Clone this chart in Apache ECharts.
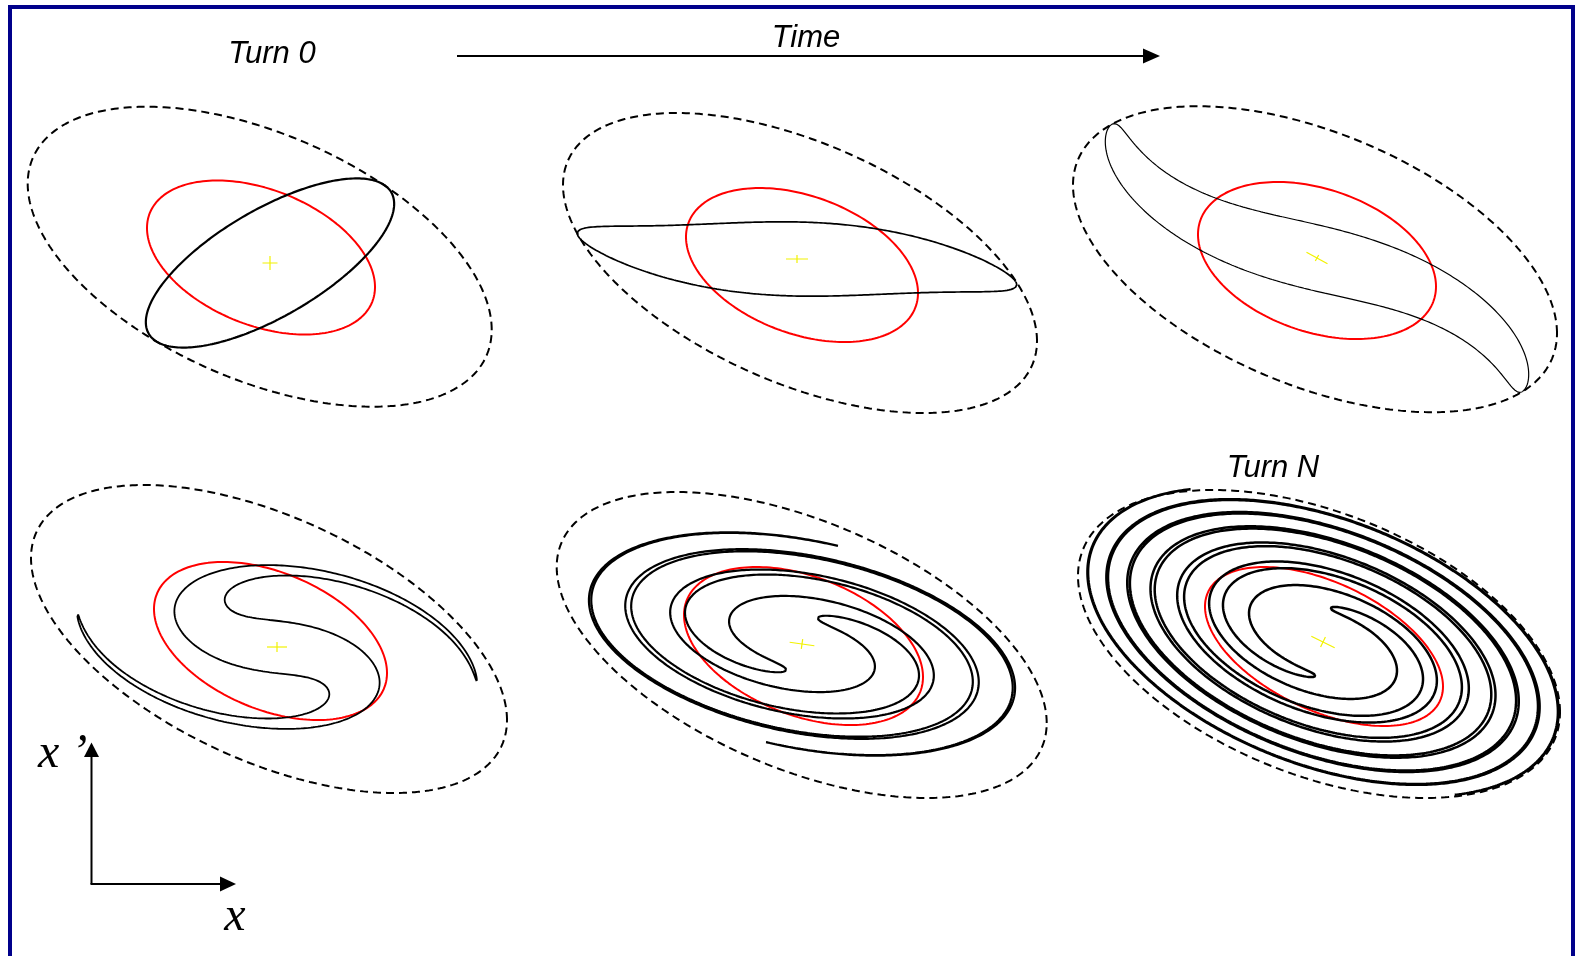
<!DOCTYPE html>
<html><head><meta charset="utf-8">
<script src="https://cdn.jsdelivr.net/npm/echarts@6/dist/echarts.min.js"></script>
<style>html,body{margin:0;padding:0;background:#fff}#c{width:1578px;height:964px}</style>
</head><body><div id="c"></div>
<script>
// ---------------- data ----------------
const titleTexts = ['Turn 0', 'Time', 'Turn N'];
const axisLabels = ['x ’', 'x'];
// initial (mismatched) beam ellipse, in the normalised frame of the envelope
const mismatchAxisRatio = 0.247;
const mismatchAngleDeg = 60.66;
// per-panel phase rotation of the outermost particles and amplitude-dependent spread
const outerRotationDeg = [0, 38, 92.6, 62.7, 159.6, 117.5];
const filamentShearDeg = [0, 10, 40, 186, 607, 1119];
const shearProfilePower = [1, 1, 1, 1, 1, 1];
// dashed envelope ellipse: half width, half height, x' at max x
const envHalfWidth = [232, 237, 242, 238, 245, 241];
const envHalfHeight = [150, 150, 153, 154, 153, 154];
const envYAtMaxX = [-73, -78, -74, -81, -78, -68];
// phase-space frame in which the beam filaments
const frameHalfWidth = [232, 237, 242, 200, 230, 241];
const frameHalfHeight = [150, 150, 153, 110, 114, 154];
const frameYAtMaxX = [-73, -78, -74, -30, -42, -68];
// red matched ellipse
const redHalfWidth = [114, 116, 119, 116.5, 119.5, 119];
const redHalfHeight = [77, 77, 78.5, 79, 79, 79.5];
const redYAtMaxX = [-29.5, -28, -26, -32, -31, -40];
const redCentre = [[1.3, -0.8], [2, -2], [2, -1.3], [1.5, -2], [1.8, -1], [5, -2.5]];
// beam centroid (yellow cross)
const beamCentre = [[10.3, -6.3], [-3, 4], [2, 1.2], [8, -8], [0.3, 1], [4, 2]];
const crossLongHalf = [7.5, 11, 12, 10, 12.5, 13];
const crossShortHalf = [7, 4, 3.5, 5, 5, 5.5];
const crossAngleDeg = [0, 0, -29, 0, -8, -26];

// ---------------- layout / style ----------------
const panelCentres = [[259.7,256.7],[800,263],[1315,259.2],[269,639],[801.7,645],[1319,644]];
const beamWidth = [2.2, 1.7, 1.2, 1.8, 2.2, 2.5];
const HW = 250, HH = 170;

function ellipse(W, H, yR, ox, oy, n) {
  const s = Math.sqrt(Math.max(H*H - yR*yR, 1));
  const pts = [];
  for (let i = 0; i <= n; i++) {
    const t = 2*Math.PI*i/n, u = Math.cos(t), v = Math.sin(t);
    pts.push([W*u + ox, yR*u + s*v + oy]);
  }
  return pts;
}
function beam(p, n) {
  const W = frameHalfWidth[p], H = frameHalfHeight[p], yR = frameYAtMaxX[p];
  const s = Math.sqrt(H*H - yR*yR);
  const b = mismatchAxisRatio, th = mismatchAngleDeg*Math.PI/180;
  const [ox, oy] = beamCentre[p];
  const pts = [];
  for (let i = 0; i <= n; i++) {
    const t = 2*Math.PI*i/n;
    const u0 = Math.cos(t)*Math.cos(th) - b*Math.sin(t)*Math.sin(th);
    const v0 = Math.cos(t)*Math.sin(th) + b*Math.sin(t)*Math.cos(th);
    const J = u0*u0 + v0*v0, r = Math.sqrt(J), ph = Math.atan2(v0, u0);
    const f = Math.pow(Math.max(0, (1 - J)/(1 - b*b)), shearProfilePower[p]);
    const rot = (outerRotationDeg[p] - filamentShearDeg[p]*f)*Math.PI/180;
    const u = r*Math.cos(ph - rot), v = r*Math.sin(ph - rot);
    pts.push([W*u + ox, yR*u + s*v + oy]);
  }
  return pts;
}
function crossArm(p, which) {
  const a = (crossAngleDeg[p] + (which ? 90 : 0))*Math.PI/180;
  const L = which ? crossShortHalf[p] : crossLongHalf[p];
  const [ox, oy] = beamCentre[p];
  return [[ox - L*Math.cos(a), oy - L*Math.sin(a)], [ox + L*Math.cos(a), oy + L*Math.sin(a)]];
}

const grids = [], xAxes = [], yAxes = [], series = [];
panelCentres.forEach((c, p) => {
  grids.push({left: c[0]-HW, top: c[1]-HH, width: 2*HW, height: 2*HH, containLabel: false});
  xAxes.push({gridIndex: p, type: 'value', min: -HW, max: HW, show: false});
  yAxes.push({gridIndex: p, type: 'value', min: -HH, max: HH, show: false});
  const base = {type: 'line', xAxisIndex: p, yAxisIndex: p, showSymbol: false, symbol: 'none',
    clip: false, silent: true, animation: false, smooth: false};
  series.push(Object.assign({}, base, {data: ellipse(envHalfWidth[p], envHalfHeight[p], envYAtMaxX[p], 0, 0, 400),
    lineStyle: {color: '#000', width: 2, type: [8, 5]}}));
  series.push(Object.assign({}, base, {data: ellipse(redHalfWidth[p], redHalfHeight[p], redYAtMaxX[p], redCentre[p][0], redCentre[p][1], 400),
    lineStyle: {color: '#ff0000', width: 2}}));
  series.push(Object.assign({}, base, {data: beam(p, 16000),
    lineStyle: {color: '#000', width: beamWidth[p]}}));
  series.push(Object.assign({}, base, {data: crossArm(p, 0), lineStyle: {color: '#f2f200', width: 1.2}}));
  series.push(Object.assign({}, base, {data: crossArm(p, 1), lineStyle: {color: '#f2f200', width: 1.2}}));
});

const sans = 'italic 31px "Liberation Sans", Arial, sans-serif';
const serif = 'italic 48px "Liberation Serif", "Times New Roman", serif';
const graphic = [
  {type: 'polyline', shape: {points: [[10, 956], [10, 7], [1573, 7], [1573, 956]]},
    style: {stroke: '#00008b', lineWidth: 4, fill: null}},
  {type: 'text', style: {text: titleTexts[0], x: 272, y: 54, font: sans, fill: '#000', textAlign: 'center', textVerticalAlign: 'middle'}},
  {type: 'text', style: {text: titleTexts[1], x: 806, y: 38, font: sans, fill: '#000', textAlign: 'center', textVerticalAlign: 'middle'}},
  {type: 'text', style: {text: titleTexts[2], x: 1273, y: 468, font: sans, fill: '#000', textAlign: 'center', textVerticalAlign: 'middle'}},
  {type: 'line', shape: {x1: 457, y1: 56, x2: 1144, y2: 56}, style: {stroke: '#000', lineWidth: 2}},
  {type: 'polygon', shape: {points: [[1143, 48.5], [1160, 56], [1143, 63.5]]}, style: {fill: '#000'}},
  {type: 'line', shape: {x1: 91.5, y1: 884, x2: 91.5, y2: 756}, style: {stroke: '#000', lineWidth: 2}},
  {type: 'polygon', shape: {points: [[84, 757], [91.5, 742.5], [99, 757]]}, style: {fill: '#000'}},
  {type: 'line', shape: {x1: 90.5, y1: 884, x2: 221, y2: 884}, style: {stroke: '#000', lineWidth: 2}},
  {type: 'polygon', shape: {points: [[220, 876.5], [236, 884], [220, 891.5]]}, style: {fill: '#000'}},
  {type: 'text', style: {text: axisLabels[0], x: 38, y: 754, font: serif, fill: '#000', textAlign: 'left', textVerticalAlign: 'middle'}},
  {type: 'text', style: {text: axisLabels[1], x: 235, y: 917, font: serif, fill: '#000', textAlign: 'center', textVerticalAlign: 'middle'}}
];

const chart = echarts.init(document.getElementById('c'), null, {renderer: 'canvas'});
chart.setOption({backgroundColor: '#fff', animation: false, grid: grids, xAxis: xAxes, yAxis: yAxes, series: series, graphic: graphic});
</script></body></html>
